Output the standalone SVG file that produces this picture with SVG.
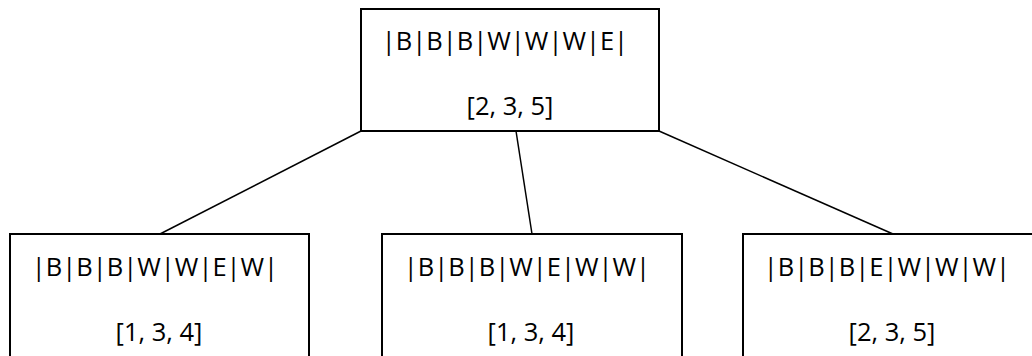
<svg xmlns="http://www.w3.org/2000/svg" width="1032" height="356" viewBox="0 0 1032 356">
<style>
.box{fill:#fff;stroke:#000;stroke-width:2}
.edge{stroke:#000;stroke-width:1.5;fill:none}
text{font-family:"Open Sans","Liberation Sans",sans-serif;font-size:25.5px;fill:#000;text-anchor:middle}
</style>
<rect width="1032" height="356" fill="#fff"/>
<g id="connectors">
<line class="edge" x1="361" y1="131" x2="160" y2="234"/>
<line class="edge" x1="516" y1="131" x2="532" y2="234"/>
<line class="edge" x1="659" y1="131" x2="893" y2="234"/>
</g>
<g id="root">
<rect class="box" x="361" y="9" width="298" height="122"/>
<text x="505" y="50">|B|B|B|W|W|W|E|</text>
<text x="510" y="115">[2, 3, 5]</text>
</g>
<g id="child1">
<rect class="box" x="10" y="234" width="299" height="130"/>
<text x="155" y="276">|B|B|B|W|W|E|W|</text>
<text x="159" y="341">[1, 3, 4]</text>
</g>
<g id="child2">
<rect class="box" x="382" y="234" width="300" height="130"/>
<text x="527" y="276">|B|B|B|W|E|W|W|</text>
<text x="531" y="341">[1, 3, 4]</text>
</g>
<g id="child3">
<rect class="box" x="743" y="234" width="300" height="130"/>
<text x="887" y="276">|B|B|B|E|W|W|W|</text>
<text x="892" y="341">[2, 3, 5]</text>
</g>
</svg>
